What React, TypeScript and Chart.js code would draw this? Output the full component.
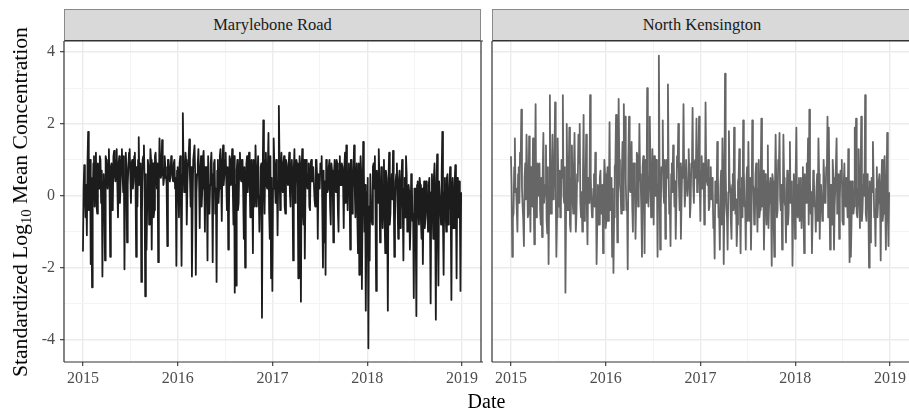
import React, { useEffect, useRef } from 'react';
import { Chart, registerables } from 'chart.js';

Chart.register(...registerables);

// ---- data -------------------------------------------------------------
const START_YEAR = 2015;
const STEP_DAYS = 5; // main readings every 5 days, in-between readings offset by half a step
const panelTitles = ['Marylebone Road', 'North Kensington'];
const xGridValues = [2015, 2015.5, 2016, 2016.5, 2017, 2017.5, 2018, 2018.5, 2019];
const xTickLabels = [2015, 2016, 2017, 2018, 2019];
const yGridValues = [-4, -3, -2, -1, 0, 1, 2, 3, 4];
const yTickLabels = [-4, -2, 0, 2, 4];
const xTitle = 'Date';

// Marylebone Road: readings on day 0, 5, 10, ...
const marylebone = [
  -1.55, 0.85, -0.6, -1.1, 1.78, 0.3, -1.9, -2.55, 0.9, -0.3,
  1.2, -0.5, 0.8, 1.1, -0.2, -2.25, 0.6, -1.8, 1.0, 0.2,
  1.3, -1.7, 0.9, -0.3, 1.25, 0.4, 1.3, -0.6, 1.1, 0.3,
  1.3, 0.1, -2.05, 1.2, -1.3, 0.8, 1.3, -0.2, 1.0, 0.4,
  1.2, -1.7, -0.3, 1.63, 0.5, -2.4, 1.0, 1.4, -2.8, -1.5,
  1.0, -0.8, 1.3, -1.5, 0.9, -0.4, 1.2, 0.2, -1.85, 1.6,
  0.5, 1.55, 0.3, 1.1, 0.6, -1.4, 1.0, 0.4, 1.1, 0.5,
  0.9, 0.2, -1.95, 0.8, -0.6, 1.1, -1.95, 2.3, 0.1, 1.2,
  -0.8, 0.9, 1.57, -0.3, -2.25, 1.0, 1.4, -2.2, 0.6, 1.3,
  -0.9, 1.1, 0.2, 1.25, -1.0, 0.8, -1.8, 1.1, 0.3, 1.2,
  -1.85, 0.9, -0.5, -2.4, 1.0, 0.2, 1.3, -0.7, 1.4, 0.6,
  1.2, -0.4, -1.5, 1.1, 0.3, 1.3, -0.8, -2.7, -2.5, 1.0,
  -0.2, 1.2, 0.4, 1.0, -1.2, -2.0, 0.9, 0.1, 1.2, -0.6,
  1.0, -1.6, 0.5, 1.4, -0.3, 1.1, -1.0, 0.8, -3.4, 2.1,
  -0.5, 1.2, 0.2, 1.75, -1.2, -2.3, -2.65, 1.6, 0.3, 1.0,
  -1.1, 2.5, -0.4, 1.2, 0.1, 1.1, -0.5, 0.9, 0.3, 1.2,
  -0.3, 1.0, -1.8, 1.3, 0.2, 0.9, -2.3, 1.1, -2.95, 1.3,
  -0.8, -1.75, 1.0, 0.2, 0.9, -0.4, 1.0, 0.4, 0.8, -0.3,
  1.0, -1.2, 0.5, 0.9, 1.1, -2.0, -1.3, -2.2, 0.9, 0.2,
  1.0, -0.8, 0.7, -1.3, 1.0, 0.1, 0.9, -1.0, 1.1, 0.3,
  0.8, -0.9, 1.2, 1.4, -0.4, 0.9, -1.5, 1.0, 0.2, 1.4,
  -0.6, 0.9, -1.6, -2.2, 1.1, -2.6, 1.5, -1.0, -3.2, 0.1,
  -4.25, -1.8, 0.6, -0.8, 0.9, 1.1, -2.65, 0.3, 1.3, -1.3,
  0.8, -0.9, 1.0, -1.6, 0.5, -3.2, 1.2, -0.5, 0.6, 1.25,
  -1.7, 0.4, 0.9, -1.2, 0.7, -0.4, 1.0, -1.8, 0.5, 1.1,
  -1.0, 0.3, -1.5, 0.6, -0.7, -2.85, 0.2, -3.35, 0.4, -0.8,
  0.3, -1.2, -1.9, 0.4, -0.6, 0.2, -1.0, 0.5, -3.0, 0.6,
  -1.2, 0.9, -3.45, 1.15, -2.5, 0.4, -0.8, 1.78, -2.2, 0.5,
  -1.0, 0.6, -0.4, 0.8, -2.9, 0.5, -0.9, 0.85, -2.3, 0.2,
  0.4, -2.65,
];

// Marylebone Road: readings in between (day 2.5, 7.5, ...) — the dense core of the band
const maryleboneMid = [
  0.2, 0.1, 0.3, 0.9, -0.4, 1.0, 0.5, -0.2, 1.1, 0.6,
  -0.3, 0.9, 0.2, 1.0, 0.7, 0.4, -0.1, 1.1, 0.5, 0.9,
  0.2, 0.8, -0.4, 1.1, 0.6, 1.0, 0.3, 0.9, -0.2, 1.0,
  0.7, 1.1, 0.4, 0.8, 0.3, 1.2, 0.6, 0.9, 0.2, 1.1,
  0.5, 0.8, 1.0, 0.3, 0.9, -0.5, 1.1, 0.4, 0.6, -0.3,
  0.8, 0.2, 1.0, 0.5, -0.6, 1.1, 0.7, 0.9, 0.3, 1.0,
  0.6, 0.9, 0.5, 0.8, 0.3, 1.0, 0.7, 0.6, 0.9, 0.4,
  1.0, 0.5, 0.7, 0.2, 0.9, -0.2, 0.6, 0.8, 0.4, 1.0,
  0.3, 1.1, 0.5, 0.8, -0.4, 1.0, 0.6, 0.1, 0.9, 0.4,
  0.7, -0.3, 1.0, 0.5, 0.8, 0.2, 1.1, -0.5, 0.9, 0.4,
  0.6, 1.0, 0.2, 0.7, -0.2, 1.1, 0.5, 0.9, 0.3, 1.0,
  0.4, 0.8, -0.6, 1.0, 0.6, 0.2, 1.1, 0.3, 0.7, -0.4,
  0.9, 0.5, 1.0, 0.1, 0.8, -0.5, 1.1, 0.6, 0.4, 0.9,
  0.2, 1.0, -0.3, 0.7, 0.5, 1.1, 0.0, 0.9, 0.4, 0.6,
  1.0, 0.3, 0.8, -0.4, 1.1, 0.5, 0.2, 0.9, -0.2, 0.7,
  0.4, 1.0, 0.6, 0.3, 0.9, -0.3, 1.0, 0.5, 0.8, 0.1,
  0.9, 0.4, 0.7, -0.2, 1.0, 0.5, 0.3, 0.8, 0.6, -0.4,
  1.0, 0.2, 0.7, 0.5, -0.3, 0.9, 0.4, 0.8, -0.1, 1.0,
  0.5, 0.6, 0.2, 0.9, -0.4, 0.7, 0.4, 1.0, 0.1, 0.8,
  -0.3, 0.9, 0.5, 0.6, 0.2, 1.0, -0.4, 0.7, 0.3, 0.9,
  0.4, 0.8, -0.2, 0.9, 0.6, 0.3, 1.0, -0.5, 0.7, 0.2,
  0.8, -0.6, 0.9, 0.1, 0.6, -0.4, 0.8, 0.3, -0.8, 0.5,
  -0.3, 0.6, -0.7, 0.8, 0.2, -0.5, 0.7, -0.2, 0.5, -0.9,
  0.6, 0.0, -0.6, 0.7, -0.3, 0.4, -0.8, 0.5, -0.1, 0.3,
  -0.7, 0.6, -0.2, 0.4, -0.9, 0.5, -0.4, 0.2, -0.6, 0.6,
  -0.3, 0.1, -0.8, 0.4, -0.5, 0.2, -1.0, 0.3, -0.4, 0.5,
  -0.7, 0.2, -0.2, -0.9, 0.4, -0.5, 0.3, -0.8, 0.1, -0.3,
  0.5, -0.6, 0.2, -0.9, 0.4, -0.3, 0.6, -0.7, 0.1, -0.4,
  0.5, -0.8, 0.2, -0.5, 0.4, -0.9, 0.3, -0.2, 0.5, -0.6,
  -0.3, 0.1,
];

// North Kensington: readings on day 0, 5, 10, ...
const northKensington = [
  1.1, -1.7, -0.5, 1.6, 0.2, -1.0, 0.8, 1.2, 2.4, -0.3,
  -1.4, 0.9, 1.7, -0.6, 1.65, -1.0, 0.4, 1.6, -1.35, 2.55,
  -0.4, 0.7, 0.9, -0.8, -1.15, 1.75, -0.2, 1.4, -1.05, -1.9,
  2.8, -0.5, 1.7, 0.1, 2.6, -1.7, 1.6, -0.3, -0.6, 1.0,
  2.8, -0.2, -2.7, 2.0, -0.4, 1.9, -1.0, 1.4, -0.5, 1.75,
  -1.0, 0.6, 1.7, 2.0, -0.6, -1.0, 2.25, -0.3, 1.7, -1.35,
  0.5, 2.8, -0.2, -0.5, 0.6, 1.2, -1.9, 0.3, -0.8, 0.7,
  -0.4, -1.6, 1.0, -0.9, 0.5, -0.7, 2.05, 0.2, -1.7, -2.15,
  0.8, 2.25, -1.3, 2.7, 0.3, -0.5, 1.5, 2.55, 2.2, -0.4,
  -2.05, 2.2, 0.1, 1.5, -1.0, 0.9, -1.2, 1.2, -0.3, 2.0,
  0.4, -1.7, 1.1, -1.6, 0.6, 3.0, -0.3, 2.2, -0.6, 1.3,
  -0.8, 0.9, 1.0, -1.7, 3.9, -1.5, 0.8, 2.1, -0.2, -1.2,
  1.0, 3.1, -0.5, -1.4, 0.9, 1.4, -0.3, -1.2, 1.1, 2.0,
  -0.4, -1.2, 0.8, 2.55, -0.3, 1.0, 0.0, 1.3, -0.6, 0.9,
  2.45, -0.2, 1.0, 2.15, 0.2, 2.2, -0.7, 1.1, 0.3, -0.8,
  2.6, 0.4, 1.0, -0.3, 0.8, 0.5, -0.9, -1.75, 0.3, 1.5,
  -0.6, -1.5, 0.7, 1.6, -1.9, 3.4, -0.3, -1.5, 1.8, 0.2,
  -1.2, 0.6, 1.9, -0.5, -1.4, 0.4, 1.3, -1.6, 0.5, 2.1,
  -0.3, -1.5, 0.8, 1.5, -0.7, -1.5, 2.1, 0.2, -0.7, 0.9,
  -1.0, 1.0, -0.4, 2.15, 0.3, -1.5, 0.6, -0.8, 1.4, -0.2,
  0.5, -1.95, 0.4, -1.7, 1.7, -0.6, 1.0, 1.75, -0.4, -1.5,
  1.7, -0.2, -1.3, 0.7, -0.5, 1.5, 0.1, -1.95, 0.6, -1.2,
  1.9, -0.6, 0.5, 0.4, -0.9, 0.8, -1.6, 0.2, 0.9, 1.6,
  2.4, -0.5, -1.6, 0.7, -0.3, -1.0, 0.6, 1.6, -1.2, 0.3,
  -0.7, 1.0, -0.2, 0.8, 2.2, 1.9, -1.5, 0.3, 1.0, -1.5,
  0.2, 1.6, -0.4, -1.2, 0.7, 1.0, -0.8, 0.9, -0.3, 0.5,
  1.3, -1.85, -1.7, 0.4, -0.5, 1.9, 2.15, -0.6, 1.3, -0.9,
  2.2, -0.4, 0.6, 2.8, -0.7, 0.3, -2.0, -1.3, 0.5, 1.5,
  -0.6, -1.4, 0.8, -0.2, 0.6, -1.8, 1.0, -0.5, 1.1, -1.5,
  1.75, -1.4,
];

// North Kensington: readings in between (day 2.5, 7.5, ...)
const northKensingtonMid = [
  0.3, -0.6, 0.8, 0.1, -0.4, 0.6, -0.2, 0.9, 0.2, -0.7,
  0.5, -0.1, 0.7, -0.5, 0.4, 0.8, -0.3, 0.2, 0.6, -0.6,
  0.9, 0.0, -0.4, 0.5, 0.7, -0.2, 0.3, -0.7, 0.8, 0.1,
  -0.5, 0.6, -0.1, 0.9, 0.2, -0.6, 0.4, 0.7, -0.3, 0.5,
  0.0, 0.8, -0.4, 0.3, 0.6, -0.8, 0.5, -0.1, 0.7, 0.2,
  -0.5, 0.4, 0.9, -0.2, 0.1, 0.6, -0.7, 0.3, -0.4, 0.5,
  -0.2, 0.6, -0.6, 0.2, -0.3, 0.4, -0.8, 0.1, 0.5, -0.5,
  0.3, -0.2, 0.6, -0.7, 0.8, 0.0, -0.4, 0.5, 0.2, -0.6,
  0.9, 0.3, -0.3, 1.0, 0.1, 0.6, -0.4, 0.8, 0.4, -0.2,
  1.0, 0.2, 0.7, -0.3, 0.9, 0.5, -0.1, 1.1, 0.3, 0.6,
  -0.4, 0.8, 0.2, 1.0, -0.2, 0.7, 0.4, 0.9, -0.3, 0.5,
  1.1, 0.0, 0.6, 0.3, 0.9, -0.4, 0.7, 0.2, 1.0, -0.1,
  0.5, 0.8, -0.3, 0.6, 0.1, 1.0, 0.4, -0.2, 0.8, 0.3,
  0.9, -0.1, 0.5, 0.7, 0.2, 1.0, 0.4, 0.6, -0.2, 0.8,
  0.3, 0.9, 0.5, 0.1, 1.0, 0.4, 0.7, 0.2, 0.9, -0.3,
  0.6, 0.3, -0.4, 0.5, -0.1, 0.2, -0.6, 0.4, -0.2, 0.6,
  -0.5, 0.3, -0.8, 0.5, -0.2, 0.7, -0.6, 0.1, 0.4, -0.7,
  0.3, -0.4, 0.6, -0.1, -0.8, 0.5, -0.3, 0.2, -0.6, 0.7,
  -0.2, 0.4, -0.7, 0.1, 0.5, -0.4, 0.3, -0.8, 0.6, -0.1,
  0.2, -0.6, 0.5, -0.3, 0.7, -0.5, 0.1, 0.4, -0.9, 0.3,
  -0.2, 0.6, -0.7, 0.2, 0.4, -0.4, 0.7, -0.1, 0.3, -0.6,
  0.5, -0.3, 0.1, -0.8, 0.6, -0.2, 0.4, -0.5, 0.2, 0.7,
  -0.4, 0.3, -0.7, 0.5, 0.0, -0.5, 0.6, -0.2, 0.3, -0.8,
  0.4, 0.1, -0.6, 0.5, -0.3, 0.2, -0.7, 0.6, -0.1, 0.3,
  -0.5, 0.4, -0.2, 0.7, -0.6, 0.1, 0.3, -0.8, 0.5, -0.3,
  0.2, -0.5, 0.6, -0.1, 0.4, -0.7, 0.3, -0.2, 0.5, -0.6,
  0.1, 0.4, -0.8, 0.3, -0.3, 0.6, -0.5, 0.2, -0.1, 0.5,
  -0.7, 0.3, 0.0, -0.5, 0.6, -0.2, 0.4, -0.8, 0.1, 0.5,
  -0.4, 0.2, -0.6, 0.4, -0.1, 0.3, -0.7, 0.5, -0.2, 0.3,
  -0.5, 0.1,
];

// decimal-year date of a given day offset from 2015-01-01
const toYear = (day: number) => START_YEAR + day / 365.25;

function buildSeries(main: number[], mid: number[]) {
  const pts: { x: number; y: number }[] = [];
  main.forEach((v, i) => {
    pts.push({ x: toYear(i * STEP_DAYS), y: v });
    if (i < mid.length) pts.push({ x: toYear(i * STEP_DAYS + STEP_DAYS / 2), y: mid[i] });
  });
  return pts;
}

// ---- styling -----------------------------------------------------------
const FONT = '"Liberation Serif", "Times New Roman", serif';

function makeBorderPlugin(drawRight: boolean) {
  return {
    id: 'panelBorder',
    afterDraw(chart: any) {
      const { ctx, chartArea: a } = chart;
      ctx.save();
      ctx.strokeStyle = '#333333';
      ctx.lineWidth = 1.2;
      ctx.beginPath();
      if (drawRight) {
        ctx.moveTo(a.right, a.top);
        ctx.lineTo(a.right, a.bottom);
      }
      ctx.moveTo(a.left, a.top);
      ctx.lineTo(a.left, a.bottom);
      ctx.moveTo(a.left, a.top);
      ctx.lineTo(a.right + 2, a.top);
      ctx.moveTo(a.left, a.bottom);
      ctx.lineTo(a.right + 2, a.bottom);
      ctx.stroke();
      ctx.restore();
    },
  };
}

function buildConfig(points: { x: number; y: number }[], color: string, first: boolean): any {
  const isXMajor = (v: number) => xTickLabels.includes(v);
  const isYMajor = (v: number) => yTickLabels.includes(v);
  return {
    type: 'line',
    data: {
      datasets: [
        {
          data: points,
          borderColor: color,
          borderWidth: 1.8,
          pointRadius: 0,
          tension: 0,
          fill: false,
          borderJoinStyle: 'round',
        },
      ],
    },
    options: {
      animation: false,
      responsive: false,
      events: [],
      layout: {
        padding: first
          ? { left: 0, right: 9, top: 41, bottom: 0 }
          : { left: 7, right: 1, top: 41, bottom: 0 },
      },
      plugins: { legend: { display: false }, tooltip: { enabled: false }, title: { display: false } },
      scales: {
        x: {
          type: 'linear',
          min: 2014.8,
          max: 2019.2,
          afterBuildTicks: (s: any) => {
            s.ticks = xGridValues.map((v) => ({ value: v }));
          },
          afterFit: (s: any) => {
            s.height = 48;
          },
          border: { display: false },
          grid: {
            color: (c: any) => (c.tick && isXMajor(c.tick.value) ? '#ebebeb' : '#f3f3f3'),
            lineWidth: (c: any) => (c.tick && isXMajor(c.tick.value) ? 1.4 : 0.9),
            tickColor: (c: any) => (c.tick && isXMajor(c.tick.value) ? '#333333' : 'rgba(0,0,0,0)'),
            tickLength: 4,
            tickWidth: 1.1,
          },
          ticks: {
            autoSkip: false,
            maxRotation: 0,
            minRotation: 0,
            padding: 3,
            color: '#4d4d4d',
            font: { family: FONT, size: 16 },
            callback: (v: any) => (isXMajor(Number(v)) ? String(v) : ''),
          },
        },
        y: {
          type: 'linear',
          min: -4.63,
          max: 4.31,
          afterBuildTicks: (s: any) => {
            s.ticks = yGridValues.map((v) => ({ value: v }));
          },
          afterFit: (s: any) => {
            s.width = first ? 64 : 0;
          },
          border: { display: false },
          grid: {
            color: (c: any) => (c.tick && isYMajor(c.tick.value) ? '#ebebeb' : '#f3f3f3'),
            lineWidth: (c: any) => (c.tick && isYMajor(c.tick.value) ? 1.4 : 0.9),
            tickColor: (c: any) => (c.tick && isYMajor(c.tick.value) ? '#333333' : 'rgba(0,0,0,0)'),
            drawTicks: first,
            tickLength: first ? 4 : 0,
            tickWidth: 1.1,
          },
          ticks: {
            display: first,
            autoSkip: false,
            padding: 5,
            color: '#4d4d4d',
            font: { family: FONT, size: 16 },
            callback: (v: any) => (isYMajor(Number(v)) ? String(v) : ''),
          },
        },
      },
    },
    plugins: [makeBorderPlugin(first)],
  };
}

export default function App() {
  const leftRef = useRef<HTMLCanvasElement | null>(null);
  const rightRef = useRef<HTMLCanvasElement | null>(null);

  useEffect(() => {
    const c1 = new Chart(
      leftRef.current as HTMLCanvasElement,
      buildConfig(buildSeries(marylebone, maryleboneMid), '#1c1c1c', true)
    );
    const c2 = new Chart(
      rightRef.current as HTMLCanvasElement,
      buildConfig(buildSeries(northKensington, northKensingtonMid), '#666666', false)
    );
    return () => {
      c1.destroy();
      c2.destroy();
    };
  }, []);

  const stripStyle: React.CSSProperties = {
    position: 'absolute',
    top: 9,
    height: 32,
    boxSizing: 'border-box',
    background: '#d9d9d9',
    borderTop: '1px solid #8a8a8a',
    borderLeft: '1px solid #8a8a8a',
    borderRight: '1px solid #8a8a8a',
    borderBottom: '1px solid #333333',
    display: 'flex',
    alignItems: 'center',
    justifyContent: 'center',
    fontFamily: FONT,
    fontSize: 16.5,
    color: '#1a1a1a',
    whiteSpace: 'nowrap',
  };

  return (
    <div
      style={{
        position: 'absolute',
        left: 0,
        top: 0,
        width: 909,
        height: 410,
        overflow: 'hidden',
        background: '#ffffff',
      }}
    >
      <canvas ref={leftRef} width={490} height={410} style={{ position: 'absolute', left: 0, top: 0 }} />
      <canvas ref={rightRef} width={425} height={410} style={{ position: 'absolute', left: 485, top: 0 }} />
      <div style={{ ...stripStyle, left: 64, width: 417 }}>{panelTitles[0]}</div>
      <div style={{ ...stripStyle, left: 492, width: 420 }}>{panelTitles[1]}</div>
      <div
        style={{
          position: 'absolute',
          left: 20.6,
          top: 201.5,
          transform: 'translate(-50%, -50%) rotate(-90deg)',
          whiteSpace: 'nowrap',
          fontFamily: FONT,
          fontSize: 21.6,
          lineHeight: '22px',
          color: '#000000',
        }}
      >
        Standardized Log
        <span style={{ fontSize: '0.68em', position: 'relative', top: '0.28em' }}>10</span> Mean Concentration
      </div>
      <div
        style={{
          position: 'absolute',
          left: 486.5,
          top: 391,
          transform: 'translateX(-50%)',
          whiteSpace: 'nowrap',
          fontFamily: FONT,
          fontSize: 20,
          lineHeight: '20px',
          color: '#000000',
        }}
      >
        {xTitle}
      </div>
    </div>
  );
}
